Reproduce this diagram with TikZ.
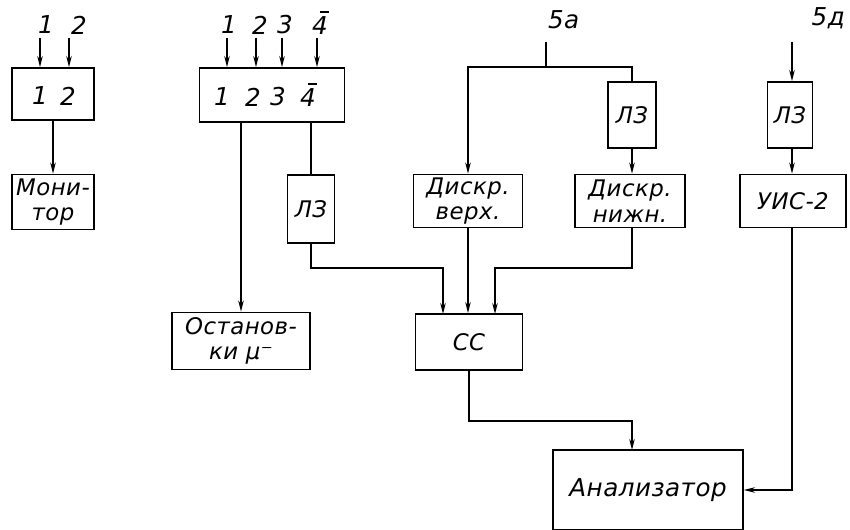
\documentclass[tikz,border=0pt]{standalone}
\usepackage{fontspec}
\usepackage{amsmath}
\newfontfamily\gost[LetterSpace=2]{DejaVu Sans}
\newcommand\barfour{\makebox[0pt][l]{\hspace{0.3em}\raisebox{0.9em}{\rule{0.38em}{0.8pt}}}4}
\usetikzlibrary{arrows.meta,positioning}

\begin{document}
\begin{tikzpicture}[x=0.02cm,y=-0.02cm,>={Stealth[length=2.2mm,width=1.1mm]},
  blk/.style={draw,line width=1.1pt,inner sep=1pt,align=center,
    font=\gost\itshape\fontsize{13}{14.5}\selectfont},
  lbl/.style={inner sep=1pt,font=\gost\itshape\fontsize{14}{16}\selectfont},
  wire/.style={line width=0.8pt}]
\useasboundingbox (0,0) rectangle (850,530);
% blocks
\node[blk,minimum width=1.64cm,minimum height=1.04cm](inA) at (53,94){};
\node[blk,minimum width=1.64cm,minimum height=1.10cm](mon) at (53,202){Мони-\\тор};
\node[blk,minimum width=2.90cm,minimum height=1.08cm](inB) at (272,95){};
\node[blk,minimum width=2.76cm,minimum height=1.14cm](ost) at (241,341){Останов-\\ки μ⁻};
\node[blk,minimum width=0.94cm,minimum height=1.36cm](lzA) at (311,209){ЛЗ};
\node[blk,minimum width=2.18cm,minimum height=1.06cm](dv) at (468,201){Дискр.\\верх.};
\node[blk,minimum width=2.14cm,minimum height=1.12cm](cc) at (469,342){СС};
\node[blk,minimum width=0.96cm,minimum height=1.32cm](lzB) at (632,115){ЛЗ};
\node[blk,minimum width=2.20cm,minimum height=1.06cm](dn) at (630,201){Дискр.\\нижн.};
\node[blk,minimum width=0.90cm,minimum height=1.32cm](lzC) at (790,115){ЛЗ};
\node[blk,minimum width=2.12cm,minimum height=1.06cm](uis) at (793,201){УИС-2};
\node[blk,minimum width=3.80cm,minimum height=1.60cm,
  font=\gost\itshape\fontsize{14}{16}\selectfont](an) at (648,490){Анализатор};
% digits inside the coincidence inputs
\node[lbl](ia1) at (40,96){1};
\node[lbl](ia2) at (68,96){2};
\node[lbl](ib1) at (222,97){1};
\node[lbl](ib2) at (253,97){2};
\node[lbl](ib3) at (278,97){3};
\node[lbl](ib4) at (308,95){\barfour};
% input labels
\node[lbl](a1) at (46,25){1};
\node[lbl](a2) at (79,25){2};
\node[lbl](b1) at (229,25){1};
\node[lbl](b2) at (260,25){2};
\node[lbl](b3) at (285,25){3};
\node[lbl](b4) at (320,23){\barfour};
\coordinate (s5a) at (546,42);
\node[lbl,above right=6pt and 0pt of s5a](l5a){5а};
\coordinate (s5g) at (792,42);
\node[lbl,above right=6pt and 10pt of s5g](l5g){5д};
% inputs
\foreach \x in {40,69}
  \draw[wire,->] (\x,38) -- (\x,0 |- inA.north);
\foreach \x in {227,256,282,317}
  \draw[wire,->] (\x,38) -- (\x,0 |- inB.north);
% connectors
\coordinate (j5a) at (546,67);
\coordinate (kA) at (311,268);
\coordinate (kN) at (632,268);
\coordinate (kC) at (469,421);
\coordinate (ccL) at (443,314);
\coordinate (ccR) at (495,314);
\coordinate (anT) at (632,450);
\draw[wire,->] (inA) -- (mon);
\draw[wire,->] (inB.south -| ost.north) -- (ost.north);
\draw[wire] (inB.south -| lzA.north) -- (lzA.north);
\draw[wire,->] (lzA.south) -- (kA) -| (ccL);
\draw[wire,->] (dv.south) -- (cc.north -| dv.south);
\draw[wire,->] (dn.south -| kN) -- (kN) -| (ccR);
\draw[wire] (s5a) -- (j5a);
\draw[wire,->] (j5a) -| (dv.north);
\draw[wire] (j5a) -| (lzB.north);
\draw[wire,->] (lzB) -- (dn.north -| lzB);
\draw[wire,->] (s5g) -- (lzC.north -| s5g);
\draw[wire,->] (lzC.south -| s5g) -- (uis.north -| s5g);
\draw[wire,->] (uis.south -| s5g) |- (an.east);
\draw[wire,->] (cc.south) -- (kC) -| (anT);
\end{tikzpicture}
\end{document}
